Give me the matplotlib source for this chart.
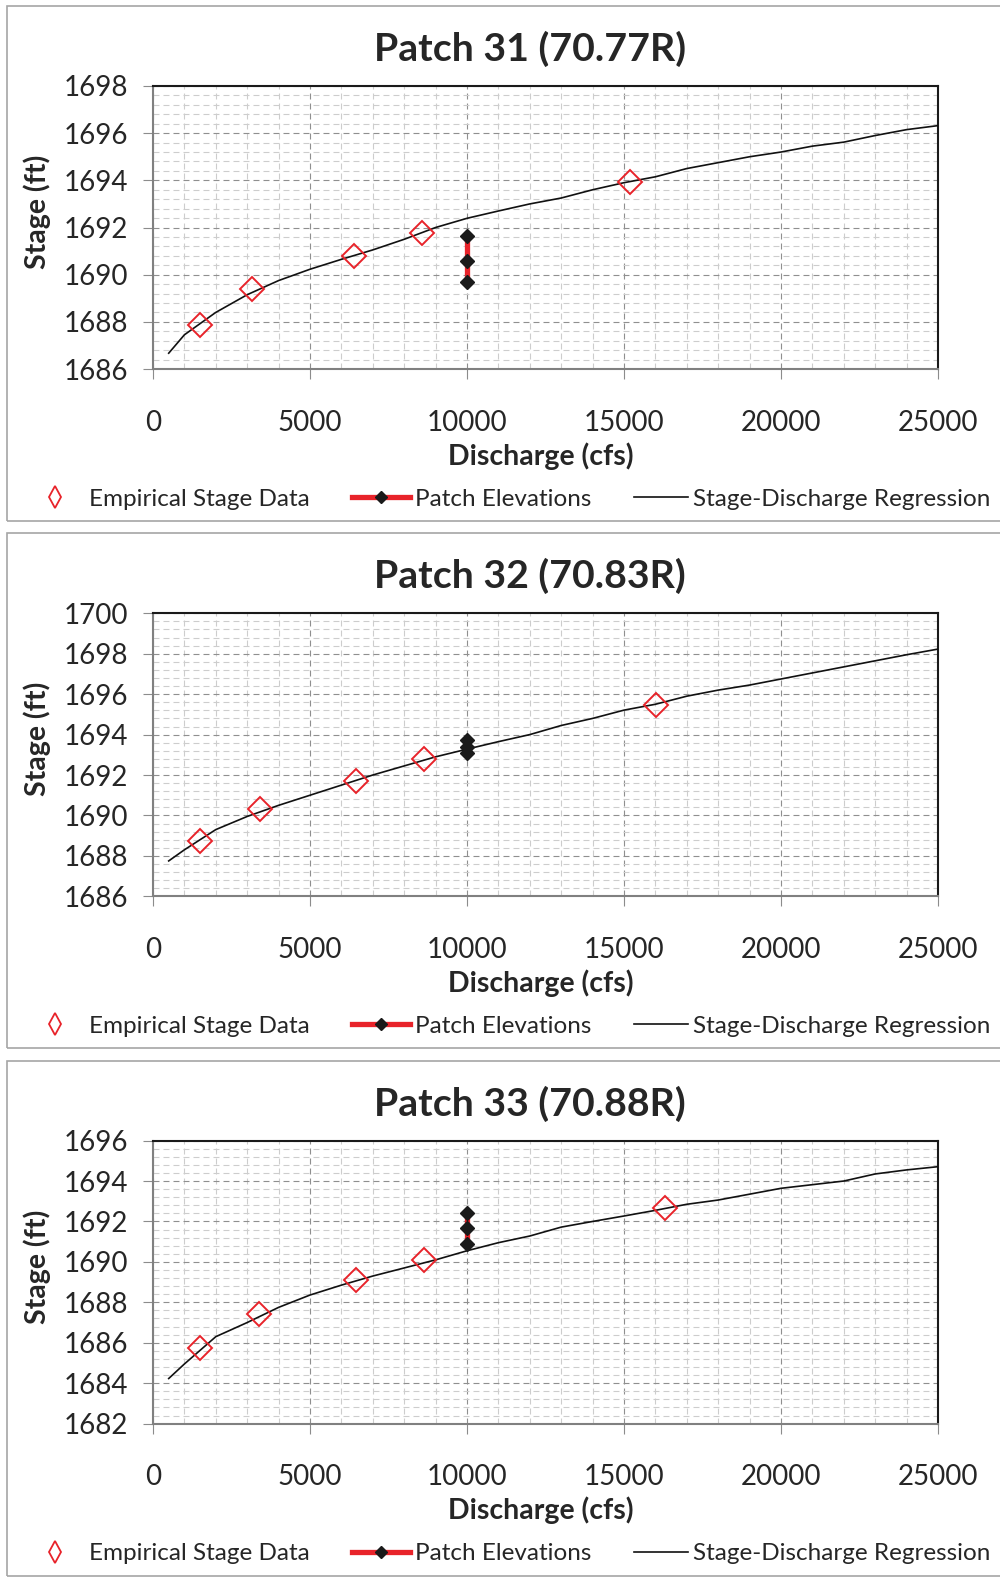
import matplotlib
matplotlib.use('Agg')
import matplotlib.pyplot as plt
from matplotlib.lines import Line2D
from matplotlib.patches import Rectangle
from matplotlib.ticker import MultipleLocator, FixedLocator

plt.rcParams['font.family'] = ['Lato', 'DejaVu Sans']
plt.rcParams['lines.scale_dashes'] = False

# ---------------- data ----------------
titles = ['Patch 31 (70.77R)', 'Patch 32 (70.83R)', 'Patch 33 (70.88R)']
x_label = 'Discharge (cfs)'
y_label = 'Stage (ft)'
legend_labels = ['Empirical Stage Data', 'Patch Elevations', 'Stage-Discharge Regression']

x_ticks = [0, 5000, 10000, 15000, 20000, 25000]
y_ticks_31 = [1686, 1688, 1690, 1692, 1694, 1696, 1698]
y_ticks_32 = [1686, 1688, 1690, 1692, 1694, 1696, 1698, 1700]
y_ticks_33 = [1682, 1684, 1686, 1688, 1690, 1692, 1694, 1696]

# Empirical stage data
emp_q_31 = [1510, 3140, 6400, 8570, 15190]
emp_s_31 = [1687.86, 1689.40, 1690.81, 1691.76, 1693.95]
emp_q_32 = [1510, 3420, 6480, 8620, 16030]
emp_s_32 = [1688.74, 1690.32, 1691.69, 1692.78, 1695.46]
emp_q_33 = [1510, 3360, 6470, 8620, 16290]
emp_s_33 = [1685.72, 1687.42, 1689.08, 1690.09, 1692.65]

# Patch elevations (all at 10000 cfs)
patch_q = [10000, 10000, 10000]
patch_s_31 = [1689.71, 1690.56, 1691.66]
patch_s_32 = [1693.07, 1693.39, 1693.73]
patch_s_33 = [1690.87, 1691.66, 1692.43]

# Stage-discharge regression
reg_q = [500, 1000, 2000, 3000, 4000, 5000, 6000, 7000, 8000, 9000, 10000,
         11000, 12000, 13000, 14000, 15000, 16000, 17000, 18000, 19000, 20000,
         21000, 22000, 23000, 24000, 25000]
reg_s_31 = [1686.67, 1687.45, 1688.40, 1689.15, 1689.75, 1690.23, 1690.65, 1691.05,
            1691.50, 1692.00, 1692.39, 1692.70, 1693.00, 1693.25, 1693.60, 1693.90,
            1694.15, 1694.50, 1694.75, 1695.00, 1695.20, 1695.45, 1695.62, 1695.90,
            1696.15, 1696.32]
reg_s_32 = [1687.75, 1688.30, 1689.30, 1689.95, 1690.50, 1691.00, 1691.50, 1692.00,
            1692.45, 1692.90, 1693.28, 1693.65, 1694.00, 1694.45, 1694.80, 1695.21,
            1695.50, 1695.90, 1696.20, 1696.45, 1696.75, 1697.05, 1697.35, 1697.65,
            1697.95, 1698.23]
reg_s_33 = [1684.23, 1684.95, 1686.30, 1687.00, 1687.75, 1688.36, 1688.85, 1689.30,
            1689.70, 1690.10, 1690.55, 1690.95, 1691.28, 1691.72, 1692.00, 1692.27,
            1692.55, 1692.85, 1693.06, 1693.35, 1693.64, 1693.82, 1694.00, 1694.35,
            1694.55, 1694.71]

panels = [
    (titles[0], y_ticks_31, emp_q_31, emp_s_31, patch_s_31, reg_s_31),
    (titles[1], y_ticks_32, emp_q_32, emp_s_32, patch_s_32, reg_s_32),
    (titles[2], y_ticks_33, emp_q_33, emp_s_33, patch_s_33, reg_s_33),
]

# ---------------- styling ----------------
W, H = 1000, 1579
RED = '#e8232a'
TXT = '#262626'
PERIOD = 527.3

fig = plt.figure(figsize=(W / 100, H / 100), dpi=100)

def fx(px):
    return px / W

def fy(py):
    return 1 - py / H

for i, (title, yt, eq, es, ps, rs) in enumerate(panels):
    off = i * PERIOD
    # panel border
    fig.add_artist(Rectangle((fx(7), fy(off + 521)), fx(1010) - fx(7), (515) / H,
                             transform=fig.transFigure, fill=False,
                             edgecolor='#a6a6a6', lw=1.2, clip_on=False))

    ax = fig.add_axes([fx(153), fy(off + 369), fx(785), 283 / H])
    ax.set_xlim(x_ticks[0], x_ticks[-1])
    ax.set_ylim(yt[0], yt[-1])
    ax.xaxis.set_major_locator(FixedLocator(x_ticks))
    ax.yaxis.set_major_locator(FixedLocator(yt))
    ax.xaxis.set_minor_locator(MultipleLocator(1000))
    ax.yaxis.set_minor_locator(MultipleLocator(0.4))
    ax.set_xticklabels([str(v) for v in x_ticks])
    ax.set_yticklabels([str(v) for v in yt])

    ax.set_axisbelow(True)
    ax.grid(which='minor', color='#cdcdcd', lw=0.8, ls=(0, (4.3, 2.9)))
    ax.grid(which='major', color='#8f8f8f', lw=0.8, ls=(0, (4.3, 2.9)))

    ax.tick_params(which='major', direction='out', length=7.2, width=0.8,
                   color='#8c8c8c', labelsize=20, labelcolor=TXT)
    ax.tick_params(which='minor', length=0)
    ax.tick_params(axis='x', pad=22)
    ax.tick_params(axis='y', pad=11)

    for s in ['top', 'right']:
        ax.spines[s].set_color('#1a1a1a')
        ax.spines[s].set_linewidth(1.5)
    for s in ['left', 'bottom']:
        ax.spines[s].set_color('#808080')
        ax.spines[s].set_linewidth(1.5)

    # series
    ax.plot(reg_q, rs, color='#111111', lw=1.2, zorder=3)
    ax.plot(eq, es, ls='none', marker='D', ms=12, mfc='none', mec=RED,
            mew=1.4, zorder=4)
    ax.plot(patch_q, ps, color=RED, lw=3.8, marker='D', ms=7,
            mfc='#1a1a1a', mec='#1a1a1a', zorder=5, solid_capstyle='butt')

    # texts
    fig.text(fx(530), fy(off + 49), title, ha='center', va='center',
             fontsize=28.3, fontweight='bold', color=TXT)
    fig.text(fx(37), fy(off + 212), y_label, rotation=90, ha='center',
             va='center', fontsize=20.5, fontweight='bold', color=TXT)
    fig.text(fx(541), fy(off + 456), x_label, ha='center', va='center',
             fontsize=20.5, fontweight='bold', color=TXT)

    # legend (three single-entry legends placed like the original)
    h_emp = Line2D([], [], ls='none', marker='d', ms=11, mfc='none', mec=RED, mew=1.3)
    h_patch = Line2D([], [], color=RED, lw=3.8, marker='D', ms=6, mfc='#1a1a1a',
                     mec='#1a1a1a')
    h_reg = Line2D([], [], color='#111111', lw=1.2)
    ly = fy(off + 499)
    fs = 17.5
    fspx = fs * 100 / 72
    for h, lab, x0, hl in [(h_emp, legend_labels[0], 26, 58),
                           (h_patch, legend_labels[1], 352, 58),
                           (h_reg, legend_labels[2], 634, 54)]:
        fig.legend([h], [lab], loc='center left', bbox_to_anchor=(fx(x0), ly),
                   frameon=False, fontsize=fs, handlelength=hl / fspx,
                   handletextpad=5 / fspx, borderpad=0, borderaxespad=0,
                   labelcolor=TXT, numpoints=1)

fig.savefig('out.png', dpi=100)
